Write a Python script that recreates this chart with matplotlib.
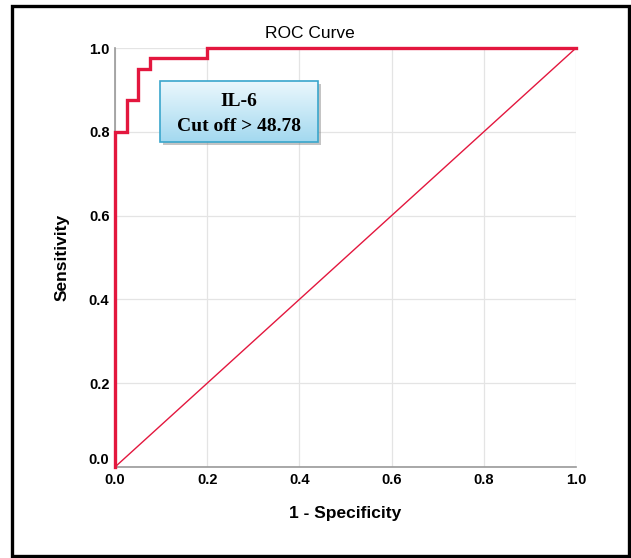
import numpy as np
import matplotlib
matplotlib.use("Agg")
from matplotlib import pyplot as plt
from matplotlib.patches import Rectangle

# ROC curve points (1 - specificity, sensitivity)
fpr = [0.0, 0.0, 0.025, 0.025, 0.05, 0.05, 0.075, 0.075, 0.2, 0.2, 1.0]
tpr = [0.0, 0.8, 0.8, 0.875, 0.875, 0.95, 0.95, 0.975, 0.975, 1.0, 1.0]
ref_line = [0.0, 1.0]
ticks = [0.0, 0.2, 0.4, 0.6, 0.8, 1.0]
tick_labels = ["0.0", "0.2", "0.4", "0.6", "0.8", "1.0"]
box_lines = ["IL-6", "Cut off > 48.78"]

red = "#e3173e"
plt.rcParams["font.family"] = ["Liberation Sans", "DejaVu Sans"]

fig = plt.figure(figsize=(6.31, 5.58), dpi=100)
ax = fig.add_axes([115 / 631, 1 - 467 / 558, 461 / 631, 419 / 558])

# outer black frame
fig.patches.append(Rectangle((12 / 631, 1 - 556 / 558), 617 / 631, 550 / 558,
                             transform=fig.transFigure, fill=False,
                             edgecolor="black", linewidth=2.4))

ax.plot(ref_line, ref_line, color=red, linewidth=1.0, zorder=3)
ax.plot(fpr, tpr, color=red, linewidth=2.4, zorder=4, clip_on=False,
        solid_joinstyle="miter")

ax.set_xlim(0, 1)
ax.set_ylim(0, 1)
ax.set_xticks(ticks)
ax.set_yticks(ticks)
ax.set_xticklabels(tick_labels, fontsize=10.5, fontweight="bold")
ax.set_yticklabels(tick_labels, fontsize=10.5, fontweight="bold")
ax.tick_params(length=0, pad=4)
ax.get_yticklabels()[0].set_va("bottom")
ax.grid(True, color="#e4e4e4", linewidth=0.9)
ax.set_axisbelow(True)
for s in ["top", "right"]:
    ax.spines[s].set_visible(False)
for s in ["left", "bottom"]:
    ax.spines[s].set_color("#999999")
    ax.spines[s].set_linewidth(1.2)

fig.text(310 / 631, 1 - 33 / 558, "ROC Curve", fontsize=12.5, ha="center", va="center")
ax.set_xlabel("1 - Specificity", fontsize=12.5, fontweight="bold", labelpad=14)
ax.set_ylabel("Sensitivity", fontsize=12.5, fontweight="bold", labelpad=14)

# annotation box with gradient fill
x0, x1, y0, y1 = 0.098, 0.44, 0.776, 0.921
ax.add_patch(Rectangle((x0 + 0.006, y0 - 0.008), x1 - x0, y1 - y0,
                       facecolor="#8a8a8a", edgecolor="none", alpha=0.5, zorder=5))
grad = np.linspace(0, 1, 64).reshape(-1, 1)
c_top = np.array([0.92, 0.97, 0.99])
c_bot = np.array([0.64, 0.85, 0.94])
img = c_top + (c_bot - c_top) * grad[:, :, None]
ax.imshow(img, extent=[x0, x1, y0, y1], origin="upper", aspect="auto", zorder=6)
ax.add_patch(Rectangle((x0, y0), x1 - x0, y1 - y0, facecolor="none",
                       edgecolor="#3aa6cc", linewidth=1.2, zorder=7))
ax.set_xlim(0, 1)
ax.set_ylim(0, 1)
xc = (x0 + x1) / 2
ax.text(xc, y0 + (y1 - y0) * 0.66, box_lines[0], ha="center", va="center",
        family="Liberation Serif", fontweight="bold", fontsize=14, zorder=8)
ax.text(xc, y0 + (y1 - y0) * 0.25, box_lines[1], ha="center", va="center",
        family="Liberation Serif", fontweight="bold", fontsize=14, zorder=8)

fig.savefig("out.png", dpi=100)
